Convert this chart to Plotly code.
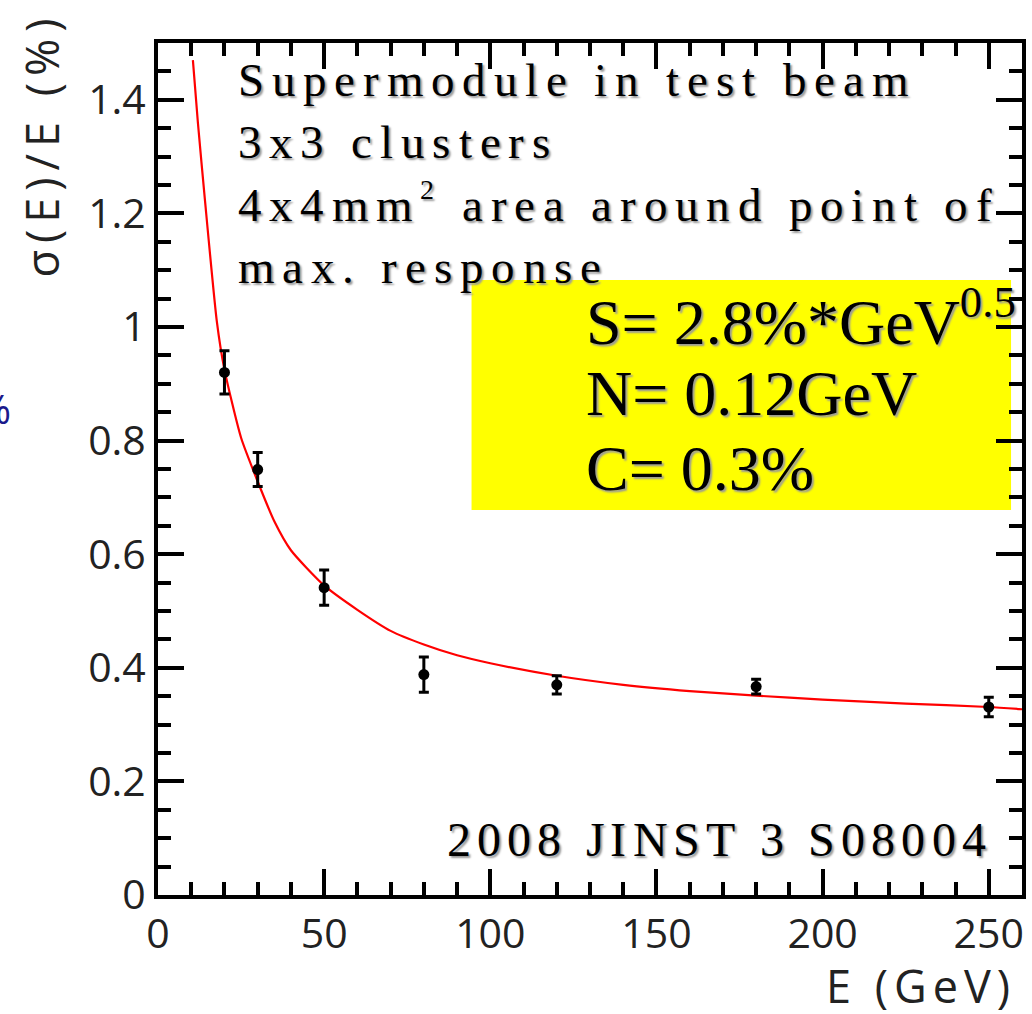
import plotly.graph_objects as go

# ---- data ----
energy = [20, 30, 50, 80, 120, 180, 250]
resolution = [0.920, 0.749, 0.541, 0.388, 0.370, 0.367, 0.331]
resolution_err = [0.038, 0.030, 0.031, 0.031, 0.016, 0.013, 0.017]

fit_energy = [10.5, 12, 14.1, 17.7, 20, 25, 30, 35, 40, 50, 60, 70, 80, 90,
              100, 120, 140, 160, 180, 200, 225, 250, 260]
fit_resolution = [1.47, 1.36, 1.225, 1.01, 0.925, 0.805, 0.728, 0.658, 0.607,
                  0.545, 0.502, 0.465, 0.441, 0.422, 0.408, 0.386, 0.370,
                  0.359, 0.351, 0.344, 0.337, 0.331, 0.327]

x_ticks = [0, 50, 100, 150, 200, 250]
x_ticklabels = ["0", "50", "100", "150", "200", "250"]
y_ticks = [0, 0.2, 0.4, 0.6, 0.8, 1.0, 1.2, 1.4]
y_ticklabels = ["0", "0.2", "0.4", "0.6", "0.8", "1", "1.2", "1.4"]

# info text: list of (text, is_superscript) segments per line
info_lines = [
    [("Supermodule in test beam", False)],
    [("3x3 clusters", False)],
    [("4x4mm", False), ("2", True), (" area around point of", False)],
    [("max. response", False)],
]
fit_lines = ["S= 2.8%*GeV<sup>0.5</sup>", "N= 0.12GeV", "C= 0.3%"]
reference_text = "2008 JINST 3 S08004"

# ---- layout geometry (pixels) ----
W, H = 1032, 1014
L, R, T, B = 158, 6, 43, 119
PW, PH = W - L - R, H - T - B


def px(x):
    return (x - L) / PW


def py(y):
    return (H - B - y) / PH


SERIF = "Liberation Serif, Times New Roman, serif"
SANS = "Open Sans"
SHADOW = "2px 2px 2px #9a9a9a"

# Times-compatible advance widths (em) used to letter-space serif text
TIMES_W = {
    "a": .444, "b": .5, "c": .444, "d": .5, "e": .444, "f": .333,
    "i": .278, "l": .278, "m": .778, "n": .5, "o": .5, "p": .5, "r": .333,
    "s": .389, "t": .278, "u": .5, "x": .5, ".": .25, " ": .25,
    "S": .556, "J": .389, "I": .333, "N": .722, "T": .611,
    "0": .5, "2": .5, "3": .5, "4": .5, "8": .5,
}

annotations = []


def spaced_serif(segments, x0, yc, size, spacing):
    """Place serif text glyph by glyph so it gets the wide tracking."""
    x = x0
    for seg, sup in segments:
        fs = round(size * 0.6) if sup else size
        yy = yc - size * 0.34 if sup else yc
        for ch in seg:
            if ch != " ":
                annotations.append(dict(
                    xref="paper", yref="paper", x=px(x), y=py(yy),
                    xanchor="left", yanchor="middle", showarrow=False,
                    text=ch,
                    font=dict(family=SERIF, size=fs, color="black",
                              shadow=SHADOW),
                ))
            x += TIMES_W[ch] * fs + spacing


def spaced_sans(text, spacing):
    return f'<span style="letter-spacing:{spacing}px">{text}</span>'


fig = go.Figure()

fig.add_trace(go.Scatter(
    x=fit_energy, y=fit_resolution, mode="lines",
    line=dict(color="#ff0000", width=2.2, shape="spline", smoothing=0.6),
    hoverinfo="skip", showlegend=False,
))

fig.add_trace(go.Scatter(
    x=energy, y=resolution, mode="markers",
    marker=dict(color="black", size=11),
    error_y=dict(type="data", array=resolution_err, color="black",
                 thickness=3, width=5),
    showlegend=False,
))

axis_common = dict(
    showline=True, linecolor="black", linewidth=4, mirror="allticks",
    ticks="inside", tickcolor="black", tickwidth=3.5, ticklen=26,
    showgrid=False, zeroline=False,
    tickfont=dict(family=SANS, size=41, color="#222222"),
)

fig.update_xaxes(
    range=[0, 260], tickvals=x_ticks, ticktext=x_ticklabels,
    minor=dict(ticks="inside", dtick=10, ticklen=13, tickwidth=3.5,
               tickcolor="black", showgrid=False),
    **axis_common,
)
fig.update_yaxes(
    range=[0, 1.5], tickvals=y_ticks, ticktext=y_ticklabels,
    minor=dict(ticks="inside", dtick=0.05, ticklen=13, tickwidth=3.5,
               tickcolor="black", showgrid=False),
    **axis_common,
)

shapes = [dict(type="rect", xref="paper", yref="paper",
               x0=px(473), x1=px(1015), y0=py(510), y1=py(280),
               fillcolor="#ffff00", line=dict(width=0), layer="below")]

info_y = [80, 142, 205, 267]
for segs, yy in zip(info_lines, info_y):
    spaced_serif(segs, 236, yy, 47, 8.0)

spaced_serif([(reference_text, False)], 446, 839, 48, 6.3)

fit_y = [317, 393, 468]
for txt, yy in zip(fit_lines, fit_y):
    annotations.append(dict(
        xref="paper", yref="paper", x=px(586), y=py(yy),
        xanchor="left", yanchor="middle", showarrow=False,
        text=txt,
        font=dict(family=SERIF, size=64, color="black", shadow=SHADOW),
    ))

annotations.append(dict(
    xref="paper", yref="paper", x=px(41), y=py(145),
    xanchor="center", yanchor="middle", showarrow=False, textangle=-90,
    text=spaced_sans("σ(E)/E (%)", 7),
    font=dict(family=SANS, size=45, color="#222222"),
))

annotations.append(dict(
    xref="paper", yref="paper", x=px(1022), y=py(985),
    xanchor="right", yanchor="middle", showarrow=False,
    text=spaced_sans("E (GeV)", 6),
    font=dict(family=SANS, size=45, color="#222222"),
))

annotations.append(dict(
    xref="paper", yref="paper", x=px(12), y=py(408),
    xanchor="right", yanchor="middle", showarrow=False,
    text="%", font=dict(family=SANS, size=40, color="#1a1a8c"),
))

fig.update_layout(
    width=W, height=H,
    margin=dict(l=L, r=R, t=T, b=B),
    paper_bgcolor="white", plot_bgcolor="white",
    shapes=shapes, annotations=annotations,
)

fig.write_html("out.html")
